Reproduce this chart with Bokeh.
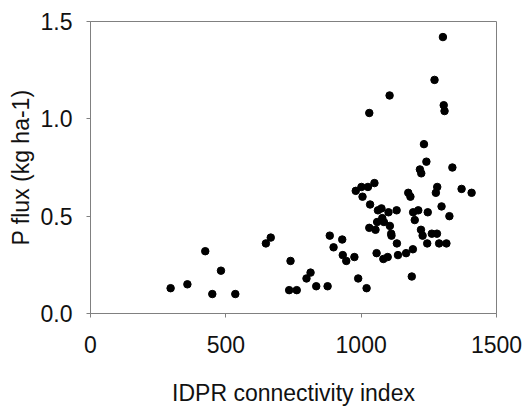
from bokeh.plotting import figure
from bokeh.models import Range1d, FixedTicker, NumeralTickFormatter
from bokeh.embed import file_html
from bokeh.resources import INLINE

idpr = [296, 358, 424, 450, 482, 535, 648, 666, 734, 739, 762, 798, 813, 834, 876, 884,
        898, 930, 932, 945, 975, 989, 980, 1001, 1005, 1020, 1025, 1030, 1030, 1033, 1049,
        1053, 1057, 1059, 1062, 1075, 1078, 1082, 1084, 1098, 1101, 1105, 1106, 1111, 1112,
        1131, 1132, 1136, 1166, 1174, 1182, 1187, 1191, 1192, 1198, 1211, 1217, 1221, 1222,
        1227, 1232, 1241, 1244, 1246, 1261, 1271, 1276, 1281, 1280, 1288, 1297, 1302, 1305,
        1308, 1315, 1326, 1337, 1371, 1408]
pflux = [0.13, 0.15, 0.32, 0.10, 0.22, 0.10, 0.36, 0.39, 0.12, 0.27, 0.12, 0.18, 0.21, 0.14,
         0.14, 0.40, 0.34, 0.38, 0.30, 0.27, 0.29, 0.18, 0.63, 0.65, 0.60, 0.13, 0.65, 1.03,
         0.44, 0.56, 0.67, 0.43, 0.31, 0.47, 0.53, 0.54, 0.49, 0.28, 0.47, 0.29, 0.52, 1.12,
         0.45, 0.41, 0.40, 0.53, 0.36, 0.30, 0.31, 0.62, 0.60, 0.19, 0.33, 0.52, 0.48, 0.53,
         0.74, 0.43, 0.72, 0.40, 0.87, 0.78, 0.36, 0.52, 0.41, 1.20, 0.62, 0.65, 0.41, 0.36,
         0.55, 1.42, 1.07, 1.04, 0.36, 0.50, 0.75, 0.64, 0.62]

x_ticks = [0, 500, 1000, 1500]
y_ticks = [0.0, 0.5, 1.0, 1.5]

FONT = "Liberation Sans"
FS = "23px"
GRAY = "#808080"

p = figure(width=530, height=409, output_backend="svg", toolbar_location=None,
           x_range=Range1d(0, 1500), y_range=Range1d(0, 1.5),
           min_border_left=90, min_border_right=34, min_border_top=21, min_border_bottom=96)
p.background_fill_color = "white"
p.border_fill_color = "white"
p.outline_line_color = GRAY
p.outline_line_width = 1
p.xgrid.visible = False
p.ygrid.visible = False

p.scatter(idpr, pflux, size=7.5, color="black", line_color="black")

for ax in (p.xaxis[0], p.yaxis[0]):
    ax.axis_line_color = GRAY
    ax.major_tick_line_color = GRAY
    ax.major_tick_in = 0
    ax.major_tick_out = 4
    ax.minor_tick_line_color = None
    ax.major_label_text_font = FONT
    ax.major_label_text_font_size = FS
    ax.major_label_text_color = "#111111"
    ax.axis_label_text_font = FONT
    ax.axis_label_text_font_size = FS
    ax.axis_label_text_font_style = "normal"
    ax.axis_label_text_color = "#111111"

p.xaxis.ticker = FixedTicker(ticks=x_ticks)
p.yaxis.ticker = FixedTicker(ticks=y_ticks)
p.yaxis.formatter = NumeralTickFormatter(format="0.0")
p.xaxis.axis_label = "IDPR connectivity index"
p.yaxis.axis_label = "P flux (kg ha-1)"
p.xaxis.major_label_standoff = 18
p.yaxis.major_label_standoff = 14
p.xaxis.axis_label_standoff = 24
p.yaxis.axis_label_standoff = 4

open("out.html", "w").write(file_html(p, INLINE))
